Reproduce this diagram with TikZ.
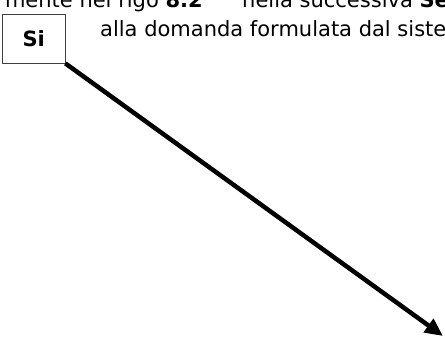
\documentclass[tikz,border=0pt]{standalone}
\usepackage{fontspec}
\setmainfont{DejaVu Sans}
\usetikzlibrary{arrows.meta}
\tikzset{
  txt/.style={inner sep=0pt, font=\fontsize{21}{25}\selectfont},
  sibox/.style={draw=black!75, line width=0.9pt, minimum width=62.5pt, minimum height=48.5pt, inner sep=0pt, font=\fontsize{21}{25}\selectfont\bfseries},
  bigarrow/.style={line width=4.5pt, -{Triangle[length=18pt,width=16pt]}}
}
\begin{document}
\begin{tikzpicture}[x=1pt,y=-1pt]
\useasboundingbox (0,0) rectangle (445,338);
\clip (0,0) rectangle (445,338);
\node[txt, anchor=base east] (l1a) at (203,7) {mente nel rigo \textbf{8.2}};
\node[txt, anchor=base west] (l1b) at (242,7) {nella successiva \textbf{Sez}};
\node[txt, anchor=base west] (l2) at (100,36) {alla domanda formulata dal sistema};
\node[sibox, anchor=north west] (si) at (2,14) {Si};
\coordinate (end) at (443,336);
\draw[bigarrow] (si.south east) -- (end);
\end{tikzpicture}
\end{document}
